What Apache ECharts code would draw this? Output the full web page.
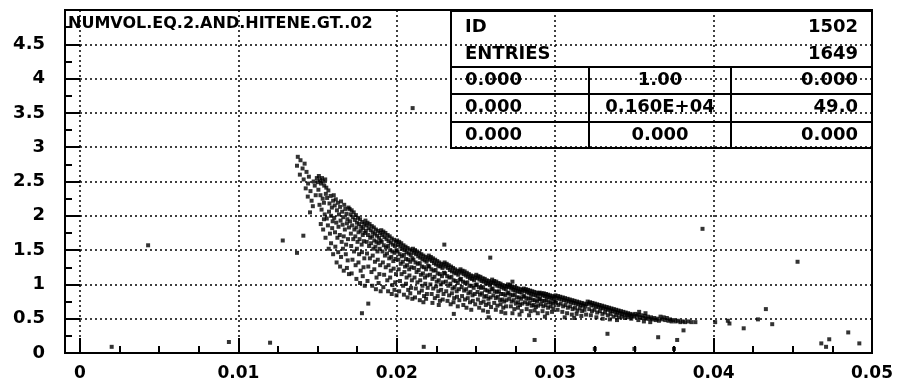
<!DOCTYPE html>
<html>
<head>
<meta charset="utf-8">
<script src="https://cdn.jsdelivr.net/npm/echarts@6/dist/echarts.min.js"></script>
<style>
  html, body { margin: 0; padding: 0; background: #fff; }
  #chart { width: 897px; height: 387px; }
</style>
</head>
<body>
<div id="chart"></div>
<script>
// ---- data ----
const title = 'NUMVOL.EQ.2.AND.HITENE.GT..02';

const statRows = [
  ['ID', '', '1502'],
  ['ENTRIES', '', '1649'],
  ['0.000', '1.00', '0.000'],
  ['0.000', '0.160E+04', '49.0'],
  ['0.000', '0.000', '0.000']
];

// sparse tip of the band, x 0.0136 .. 0.016
const bandTip = [
  [0.01375,2.86],[0.01392,2.81],[0.01370,2.73],[0.01405,2.69],[0.01418,2.76],[0.01388,2.60],[0.01412,2.53],
  [0.01430,2.64],[0.01445,2.57],[0.01440,2.47],[0.01425,2.40],[0.01455,2.36],[0.01438,2.28],[0.01462,2.22],
  [0.01475,2.50],[0.01482,2.44],[0.01470,2.14],[0.01452,2.05],[0.01488,2.30],[0.01495,2.55],
  [0.01502,2.49],[0.01508,2.58],[0.01515,2.52],[0.01522,2.47],[0.01528,2.55],[0.01535,2.50],[0.01542,2.44],
  [0.01548,2.53],[0.01555,2.41],[0.01505,2.38],[0.01518,2.30],[0.01532,2.25],[0.01512,2.16],[0.01525,2.09],
  [0.01540,2.19],[0.01552,2.32],[0.01560,2.26],[0.01568,2.37],[0.01575,2.18],[0.01582,2.29],[0.01590,2.12],
  [0.01598,2.22],[0.01545,2.02],[0.01558,1.96],[0.01572,2.06],[0.01585,2.00],[0.01595,1.92],[0.01520,1.88],
  [0.01535,1.80],[0.01565,1.86],[0.01578,1.74],[0.01592,1.82],[0.01550,1.68],[0.01585,1.60],[0.01570,1.52],
  [0.01598,1.44],[0.01540,1.95]
];

// x 0.016 .. 0.019
const bandHead = [
  [0.01602,2.30],[0.01608,2.15],[0.01615,2.24],[0.01622,2.08],[0.01628,2.19],[0.01635,2.02],[0.01642,2.13],
  [0.01648,2.21],[0.01655,2.06],[0.01662,1.98],[0.01668,2.16],[0.01675,2.10],[0.01682,2.03],[0.01688,1.95],
  [0.01695,2.12],[0.01605,1.97],[0.01618,1.90],[0.01632,1.84],[0.01645,1.93],[0.01658,1.87],[0.01672,1.80],
  [0.01685,1.89],[0.01698,1.83],[0.01610,1.76],[0.01625,1.68],[0.01640,1.72],[0.01652,1.62],[0.01665,1.70],
  [0.01680,1.58],[0.01692,1.66],[0.01612,1.55],[0.01630,1.47],[0.01648,1.40],[0.01660,1.52],[0.01678,1.44],
  [0.01690,1.35],[0.01620,1.32],[0.01642,1.26],[0.01665,1.20],[0.01685,1.24],[0.01698,1.15],
  [0.01702,2.10],[0.01708,2.02],[0.01715,2.08],[0.01722,1.98],[0.01728,2.05],[0.01735,1.94],[0.01742,2.01],
  [0.01748,1.90],[0.01755,1.97],[0.01762,1.88],[0.01768,1.95],[0.01775,1.84],[0.01782,1.91],[0.01788,1.82],
  [0.01795,1.88],[0.01705,1.92],[0.01718,1.86],[0.01732,1.80],[0.01745,1.83],[0.01758,1.76],[0.01772,1.78],
  [0.01785,1.72],[0.01798,1.75],[0.01710,1.74],[0.01725,1.66],[0.01738,1.70],[0.01752,1.62],[0.01765,1.66],
  [0.01778,1.58],[0.01792,1.63],[0.01712,1.56],[0.01730,1.48],[0.01748,1.52],[0.01762,1.44],[0.01780,1.47],
  [0.01795,1.38],[0.01720,1.36],[0.01740,1.28],[0.01758,1.32],[0.01772,1.20],[0.01790,1.25],[0.01715,1.16],
  [0.01745,1.08],[0.01768,1.02],[0.01785,1.12],[0.01798,0.98],
  [0.01802,1.93],[0.01808,1.86],[0.01815,1.90],[0.01822,1.82],[0.01828,1.88],[0.01835,1.79],[0.01842,1.85],
  [0.01848,1.76],[0.01855,1.83],[0.01862,1.74],[0.01868,1.80],[0.01875,1.71],[0.01882,1.78],[0.01888,1.68],
  [0.01895,1.75],[0.01805,1.78],[0.01818,1.72],[0.01832,1.68],[0.01845,1.70],[0.01858,1.64],[0.01872,1.62],
  [0.01885,1.60],[0.01898,1.64],[0.01810,1.62],[0.01825,1.56],[0.01838,1.60],[0.01852,1.52],[0.01865,1.55],
  [0.01878,1.48],[0.01892,1.52],[0.01812,1.45],[0.01830,1.38],[0.01848,1.42],[0.01862,1.33],[0.01880,1.36],
  [0.01895,1.28],[0.01820,1.26],[0.01840,1.18],[0.01858,1.22],[0.01872,1.10],[0.01890,1.15],[0.01815,1.05],
  [0.01845,0.98],[0.01868,0.93],[0.01885,1.02],[0.01898,0.90]
];

// x 0.019 .. 0.025
const bandMid = [
  [0.01902,1.79],[0.01908,1.72],[0.01915,1.77],[0.01922,1.69],[0.01928,1.75],[0.01935,1.66],[0.01942,1.72],
  [0.01948,1.63],[0.01955,1.70],[0.01962,1.61],[0.01968,1.67],[0.01975,1.58],[0.01982,1.65],[0.01988,1.56],
  [0.01995,1.62],[0.01905,1.62],[0.01918,1.57],[0.01932,1.54],[0.01945,1.56],[0.01958,1.50],[0.01972,1.48],
  [0.01985,1.46],[0.01998,1.50],[0.01910,1.48],[0.01925,1.42],[0.01938,1.45],[0.01952,1.38],[0.01965,1.40],
  [0.01978,1.34],[0.01992,1.37],[0.01912,1.32],[0.01930,1.25],[0.01948,1.28],[0.01962,1.20],[0.01980,1.23],
  [0.01995,1.15],[0.01920,1.14],[0.01940,1.06],[0.01958,1.10],[0.01972,0.99],[0.01990,1.03],[0.01915,0.96],
  [0.01945,0.90],[0.01968,0.86],[0.01985,0.92],[0.01998,0.84],
  [0.02002,1.64],[0.02008,1.58],[0.02015,1.62],[0.02022,1.55],[0.02028,1.60],[0.02035,1.52],[0.02042,1.57],
  [0.02048,1.50],[0.02055,1.55],[0.02062,1.47],[0.02068,1.53],[0.02075,1.45],[0.02082,1.51],[0.02088,1.43],
  [0.02095,1.49],[0.02005,1.48],[0.02018,1.44],[0.02032,1.41],[0.02045,1.43],[0.02058,1.37],[0.02072,1.36],
  [0.02085,1.33],[0.02098,1.38],[0.02010,1.36],[0.02025,1.30],[0.02038,1.33],[0.02052,1.26],[0.02065,1.28],
  [0.02078,1.22],[0.02092,1.25],[0.02012,1.22],[0.02030,1.15],[0.02048,1.18],[0.02062,1.10],[0.02080,1.13],
  [0.02095,1.06],[0.02020,1.05],[0.02040,0.98],[0.02058,1.01],[0.02072,0.92],[0.02090,0.95],[0.02015,0.90],
  [0.02045,0.85],[0.02068,0.81],[0.02085,0.87],[0.02098,0.79],
  [0.02102,1.52],[0.02108,1.46],[0.02115,1.50],[0.02122,1.44],[0.02128,1.48],[0.02135,1.41],[0.02142,1.46],
  [0.02148,1.39],[0.02155,1.44],[0.02162,1.37],[0.02168,1.42],[0.02175,1.35],[0.02182,1.40],[0.02188,1.33],
  [0.02195,1.38],[0.02105,1.36],[0.02118,1.32],[0.02132,1.30],[0.02145,1.31],[0.02158,1.26],[0.02172,1.25],
  [0.02185,1.22],[0.02198,1.27],[0.02110,1.24],[0.02125,1.18],[0.02138,1.21],[0.02152,1.14],[0.02165,1.16],
  [0.02178,1.10],[0.02192,1.13],[0.02112,1.10],[0.02130,1.03],[0.02148,1.06],[0.02162,0.98],[0.02180,1.01],
  [0.02195,0.95],[0.02120,0.94],[0.02140,0.88],[0.02158,0.91],[0.02172,0.83],[0.02190,0.86],[0.02115,0.81],
  [0.02145,0.77],[0.02168,0.74],[0.02185,0.79],
  [0.02202,1.42],[0.02208,1.36],[0.02215,1.40],[0.02222,1.34],[0.02228,1.38],[0.02235,1.31],[0.02242,1.36],
  [0.02248,1.29],[0.02255,1.34],[0.02262,1.27],[0.02268,1.32],[0.02275,1.26],[0.02282,1.30],[0.02288,1.24],
  [0.02295,1.29],[0.02205,1.26],[0.02218,1.22],[0.02232,1.20],[0.02245,1.21],[0.02258,1.16],[0.02272,1.15],
  [0.02285,1.12],[0.02298,1.17],[0.02210,1.14],[0.02225,1.08],[0.02238,1.11],[0.02252,1.04],[0.02265,1.06],
  [0.02278,1.00],[0.02292,1.03],[0.02212,1.00],[0.02230,0.94],[0.02248,0.97],[0.02262,0.90],[0.02280,0.92],
  [0.02295,0.86],[0.02220,0.86],[0.02240,0.80],[0.02258,0.83],[0.02272,0.76],[0.02290,0.78],[0.02225,0.73],
  [0.02265,0.70],
  [0.02302,1.32],[0.02308,1.26],[0.02315,1.30],[0.02322,1.24],[0.02328,1.28],[0.02335,1.21],[0.02342,1.26],
  [0.02348,1.19],[0.02355,1.24],[0.02362,1.17],[0.02368,1.22],[0.02375,1.16],[0.02382,1.20],[0.02388,1.14],
  [0.02395,1.19],[0.02305,1.16],[0.02318,1.12],[0.02332,1.10],[0.02345,1.11],[0.02358,1.06],[0.02372,1.05],
  [0.02385,1.02],[0.02398,1.07],[0.02310,1.04],[0.02325,0.98],[0.02338,1.01],[0.02352,0.94],[0.02365,0.96],
  [0.02378,0.90],[0.02392,0.93],[0.02312,0.90],[0.02330,0.84],[0.02348,0.87],[0.02362,0.80],[0.02380,0.82],
  [0.02395,0.77],[0.02320,0.76],[0.02340,0.71],[0.02358,0.74],[0.02385,0.68],
  [0.02402,1.22],[0.02408,1.17],[0.02415,1.20],[0.02422,1.15],[0.02428,1.19],[0.02435,1.13],[0.02442,1.17],
  [0.02448,1.11],[0.02455,1.15],[0.02462,1.09],[0.02468,1.13],[0.02475,1.08],[0.02482,1.12],[0.02488,1.06],
  [0.02495,1.10],[0.02405,1.08],[0.02418,1.04],[0.02432,1.02],[0.02445,1.03],[0.02458,0.98],[0.02472,0.98],
  [0.02485,0.95],[0.02498,0.99],[0.02410,0.96],[0.02425,0.91],[0.02438,0.93],[0.02452,0.87],[0.02465,0.89],
  [0.02478,0.84],[0.02492,0.86],[0.02412,0.83],[0.02430,0.78],[0.02448,0.80],[0.02462,0.74],[0.02480,0.76],
  [0.02495,0.71],[0.02420,0.70],[0.02440,0.66],[0.02470,0.63]
];

// x 0.025 .. 0.039
const bandTail = [
  [0.02502,1.14],[0.02508,1.09],[0.02515,1.12],[0.02522,1.07],[0.02528,1.11],[0.02535,1.05],[0.02542,1.09],
  [0.02548,1.04],[0.02555,1.08],[0.02562,1.02],[0.02568,1.06],[0.02575,1.01],[0.02582,1.05],[0.02588,0.99],
  [0.02595,1.03],[0.02505,1.00],[0.02518,0.96],[0.02532,0.95],[0.02545,0.96],[0.02558,0.92],[0.02572,0.91],
  [0.02585,0.89],[0.02598,0.93],[0.02510,0.89],[0.02525,0.85],[0.02538,0.87],[0.02552,0.82],[0.02565,0.83],
  [0.02578,0.79],[0.02592,0.81],[0.02512,0.78],[0.02530,0.73],[0.02548,0.75],[0.02562,0.70],[0.02580,0.72],
  [0.02595,0.67],[0.02520,0.66],[0.02545,0.62],[0.02575,0.60],
  [0.02602,1.07],[0.02608,1.02],[0.02615,1.05],[0.02622,1.00],[0.02628,1.04],[0.02635,0.98],[0.02642,1.02],
  [0.02648,0.97],[0.02655,1.01],[0.02662,0.96],[0.02668,0.99],[0.02675,0.94],[0.02682,0.98],[0.02688,0.93],
  [0.02695,0.97],[0.02605,0.94],[0.02618,0.90],[0.02632,0.89],[0.02645,0.90],[0.02658,0.86],[0.02672,0.86],
  [0.02685,0.84],[0.02698,0.87],[0.02610,0.84],[0.02625,0.80],[0.02638,0.82],[0.02652,0.77],[0.02665,0.78],
  [0.02678,0.75],[0.02692,0.77],[0.02615,0.73],[0.02635,0.69],[0.02655,0.71],[0.02672,0.66],[0.02690,0.68],
  [0.02625,0.63],[0.02660,0.60],[0.02685,0.58],
  [0.02702,1.00],[0.02708,0.96],[0.02715,0.99],[0.02722,0.94],[0.02728,0.97],[0.02735,0.92],[0.02742,0.96],
  [0.02748,0.91],[0.02755,0.95],[0.02762,0.90],[0.02768,0.94],[0.02775,0.89],[0.02782,0.93],[0.02788,0.88],
  [0.02795,0.92],[0.02705,0.88],[0.02718,0.85],[0.02732,0.84],[0.02745,0.85],[0.02758,0.81],[0.02772,0.81],
  [0.02785,0.79],[0.02798,0.82],[0.02710,0.79],[0.02725,0.75],[0.02738,0.77],[0.02752,0.72],[0.02765,0.74],
  [0.02778,0.70],[0.02792,0.72],[0.02720,0.68],[0.02742,0.64],[0.02765,0.66],[0.02788,0.61],[0.02730,0.58],
  [0.02775,0.56],
  [0.02802,0.94],[0.02808,0.90],[0.02815,0.93],[0.02822,0.89],[0.02828,0.92],[0.02835,0.87],[0.02842,0.91],
  [0.02848,0.86],[0.02855,0.90],[0.02862,0.85],[0.02868,0.89],[0.02875,0.84],[0.02882,0.88],[0.02888,0.83],
  [0.02895,0.87],[0.02805,0.83],[0.02818,0.80],[0.02832,0.79],[0.02845,0.80],[0.02858,0.77],[0.02872,0.77],
  [0.02885,0.75],[0.02898,0.78],[0.02810,0.74],[0.02825,0.71],[0.02838,0.73],[0.02852,0.69],[0.02865,0.70],
  [0.02878,0.67],[0.02892,0.69],[0.02820,0.64],[0.02845,0.61],[0.02870,0.62],[0.02890,0.58],[0.02835,0.55],
  [0.02902,0.88],[0.02908,0.85],[0.02915,0.87],[0.02922,0.84],[0.02928,0.87],[0.02935,0.83],[0.02942,0.86],
  [0.02948,0.82],[0.02955,0.85],[0.02962,0.81],[0.02968,0.84],[0.02975,0.80],[0.02982,0.83],[0.02988,0.79],
  [0.02995,0.82],[0.02905,0.79],[0.02918,0.76],[0.02932,0.76],[0.02945,0.77],[0.02958,0.74],[0.02972,0.74],
  [0.02985,0.72],[0.02998,0.75],[0.02910,0.71],[0.02925,0.68],[0.02940,0.70],[0.02955,0.66],[0.02970,0.68],
  [0.02988,0.65],[0.02920,0.61],[0.02950,0.58],[0.02980,0.60],[0.02935,0.53],
  [0.03002,0.84],[0.03010,0.80],[0.03018,0.83],[0.03025,0.79],[0.03032,0.82],[0.03040,0.78],[0.03048,0.81],
  [0.03055,0.77],[0.03062,0.80],[0.03070,0.76],[0.03078,0.79],[0.03085,0.75],[0.03092,0.78],[0.03100,0.74],
  [0.03108,0.77],[0.03115,0.73],[0.03122,0.76],[0.03130,0.72],[0.03138,0.75],[0.03145,0.71],[0.03152,0.74],
  [0.03160,0.70],[0.03168,0.73],[0.03175,0.69],[0.03182,0.72],[0.03190,0.68],[0.03198,0.71],
  [0.03005,0.73],[0.03020,0.70],[0.03035,0.72],[0.03050,0.68],[0.03065,0.70],[0.03080,0.66],[0.03095,0.68],
  [0.03110,0.64],[0.03125,0.66],[0.03140,0.62],[0.03155,0.65],[0.03170,0.61],[0.03185,0.63],[0.03015,0.63],
  [0.03045,0.60],[0.03075,0.58],[0.03105,0.56],[0.03135,0.57],[0.03165,0.54],[0.03195,0.56],[0.03060,0.52],
  [0.03120,0.51],
  [0.03205,0.75],[0.03212,0.72],[0.03220,0.74],[0.03228,0.70],[0.03235,0.73],[0.03242,0.69],[0.03250,0.72],
  [0.03258,0.68],[0.03265,0.71],[0.03272,0.67],[0.03280,0.70],[0.03288,0.66],[0.03295,0.69],[0.03302,0.65],
  [0.03310,0.68],[0.03318,0.64],[0.03325,0.67],[0.03332,0.63],[0.03340,0.66],[0.03348,0.62],[0.03355,0.65],
  [0.03362,0.61],[0.03370,0.64],[0.03378,0.60],[0.03385,0.63],[0.03392,0.59],[0.03400,0.62],[0.03408,0.58],
  [0.03415,0.61],[0.03422,0.57],[0.03430,0.60],[0.03438,0.56],[0.03445,0.59],[0.03452,0.56],[0.03460,0.58],
  [0.03468,0.55],[0.03475,0.57],[0.03482,0.54],[0.03490,0.56],[0.03498,0.53],
  [0.03215,0.64],[0.03232,0.61],[0.03248,0.63],[0.03265,0.59],[0.03282,0.61],[0.03298,0.57],[0.03315,0.59],
  [0.03332,0.55],[0.03350,0.57],[0.03368,0.53],[0.03385,0.55],[0.03402,0.52],[0.03420,0.53],[0.03440,0.51],
  [0.03460,0.52],[0.03480,0.50],[0.03225,0.55],[0.03260,0.52],[0.03300,0.50],[0.03345,0.49],[0.03390,0.48],
  [0.03505,0.57],[0.03515,0.54],[0.03525,0.56],[0.03535,0.52],[0.03545,0.55],[0.03555,0.51],[0.03565,0.54],
  [0.03575,0.50],[0.03585,0.53],[0.03595,0.50],[0.03605,0.52],[0.03615,0.49],[0.03625,0.51],[0.03635,0.48],
  [0.03645,0.50],[0.03655,0.47],[0.03665,0.53],[0.03675,0.49],[0.03685,0.52],[0.03695,0.48],[0.03705,0.51],
  [0.03715,0.47],[0.03725,0.49],[0.03735,0.46],[0.03745,0.48],[0.03760,0.46],[0.03775,0.47],[0.03790,0.45],
  [0.03805,0.46],[0.03820,0.45],[0.03840,0.46],[0.03860,0.45],[0.03885,0.45],[0.03525,0.48],[0.03560,0.46],
  [0.03600,0.45],[0.03530,0.60],[0.03570,0.58]
];

// isolated entries away from the band
const strays = [
  [0.0210,3.57],[0.0393,1.81],[0.0453,1.33],[0.0433,0.64],[0.0485,0.30],[0.0492,0.14],[0.0468,0.14],
  [0.0419,0.36],[0.0333,0.28],[0.0287,0.19],[0.0259,1.39],[0.0043,1.57],[0.0128,1.64],[0.0094,0.16],
  [0.0120,0.15],[0.0217,0.09],[0.0020,0.09],[0.0230,1.58],[0.0273,1.04],[0.0236,0.57],[0.0258,0.52],
  [0.0365,0.23],[0.0377,0.19],[0.0381,0.33],[0.0325,0.06],[0.0350,0.06],[0.0375,0.06],[0.0437,0.42],
  [0.0428,0.49],[0.0473,0.20],[0.0471,0.09],[0.0410,0.43],[0.0182,0.72],[0.0178,0.58],[0.0141,1.71],
  [0.0137,1.46],[0.0401,0.45],[0.0409,0.47]
];

const xMax = 0.05;
const xStep = 0.01;
const yMax = 5;
const yStep = 0.5;

// ---- layout ----
const font = 'DejaVu Sans';
const dotted = { color: '#000', width: 1.5, type: [2, 3] };
const table = { left: 451, right: 872, top: 11, rowLines: [67, 94, 122], bottom: 148, colLines: [589, 731] };
const rowMid = [27, 54, 80, 107, 135];

const chart = echarts.init(document.getElementById('chart'), null, { renderer: 'canvas' });

const tableGraphics = [
  {
    type: 'rect', silent: true, z: 10,
    shape: { x: table.left, y: table.top, width: table.right - table.left, height: table.bottom - table.top },
    style: { fill: null, stroke: '#000', lineWidth: 2 }
  }
];
table.rowLines.forEach((y) => {
  tableGraphics.push({
    type: 'line', silent: true, z: 10,
    shape: { x1: table.left, y1: y, x2: table.right, y2: y },
    style: { stroke: '#000', lineWidth: 2 }
  });
});
table.colLines.forEach((x) => {
  tableGraphics.push({
    type: 'line', silent: true, z: 10,
    shape: { x1: x, y1: table.rowLines[0], x2: x, y2: table.bottom },
    style: { stroke: '#000', lineWidth: 2 }
  });
});
statRows.forEach((row, i) => {
  const cells = [
    { text: row[0], x: 465, align: 'left' },
    { text: row[1], x: 660, align: 'center' },
    { text: row[2], x: 858, align: 'right' }
  ];
  cells.forEach((c) => {
    if (!c.text) return;
    tableGraphics.push({
      type: 'text', silent: true, z: 11,
      x: c.x, y: rowMid[i],
      style: { text: c.text, fill: '#000', font: 'bold 18px "' + font + '"', align: c.align, verticalAlign: 'middle' }
    });
  });
});

chart.setOption({
  animation: false,
  backgroundColor: '#fff',
  grid: [
    { left: 65, right: 25, top: 10, bottom: 34, show: true, borderColor: '#000', borderWidth: 2, backgroundColor: 'transparent' },
    { left: 80, right: 25, top: 10, bottom: 34 }
  ],
  xAxis: [
    {
      gridIndex: 0, type: 'value', min: 0, max: 1,
      axisLine: { show: true, lineStyle: { color: '#000', width: 2 } },
      axisTick: { show: false }, axisLabel: { show: false }, splitLine: { show: false }
    },
    {
      gridIndex: 1, type: 'value', min: 0, max: xMax, interval: xStep,
      axisLine: { show: false },
      axisTick: { show: true, inside: true, length: 15, lineStyle: { color: '#000', width: 2 } },
      minorTick: { show: true, splitNumber: 4, length: 7, lineStyle: { color: '#000', width: 2 } },
      axisLabel: { color: '#000', fontFamily: font, fontWeight: 'bold', fontSize: 17, margin: 12, showMaxLabel: true, showMinLabel: true },
      splitLine: { show: true, lineStyle: dotted }
    }
  ],
  yAxis: [
    {
      gridIndex: 0, type: 'value', min: 0, max: yMax, interval: yStep,
      axisLine: { show: true, lineStyle: { color: '#000', width: 2 } },
      axisTick: { show: true, inside: true, length: 15, lineStyle: { color: '#000', width: 2 } },
      minorTick: { show: true, splitNumber: 2, length: 7, lineStyle: { color: '#000', width: 2 } },
      axisLabel: { color: '#000', fontFamily: font, fontWeight: 'bold', fontSize: 18, margin: 20, showMaxLabel: false },
      splitLine: { show: true, lineStyle: dotted }
    },
    { gridIndex: 1, type: 'value', min: 0, max: yMax, show: false }
  ],
  graphic: [
    {
      type: 'text', silent: true, z: 11, x: 68, y: 24,
      style: { text: title, fill: '#000', font: 'bold 16px "' + font + '"', verticalAlign: 'middle' }
    }
  ].concat(tableGraphics),
  series: [
    {
      type: 'scatter',
      xAxisIndex: 1, yAxisIndex: 1,
      symbol: 'rect', symbolSize: 4,
      itemStyle: { color: '#000' },
      silent: true,
      data: bandTip.concat(bandHead, bandMid, bandTail, strays)
    }
  ]
});
</script>
</body>
</html>
